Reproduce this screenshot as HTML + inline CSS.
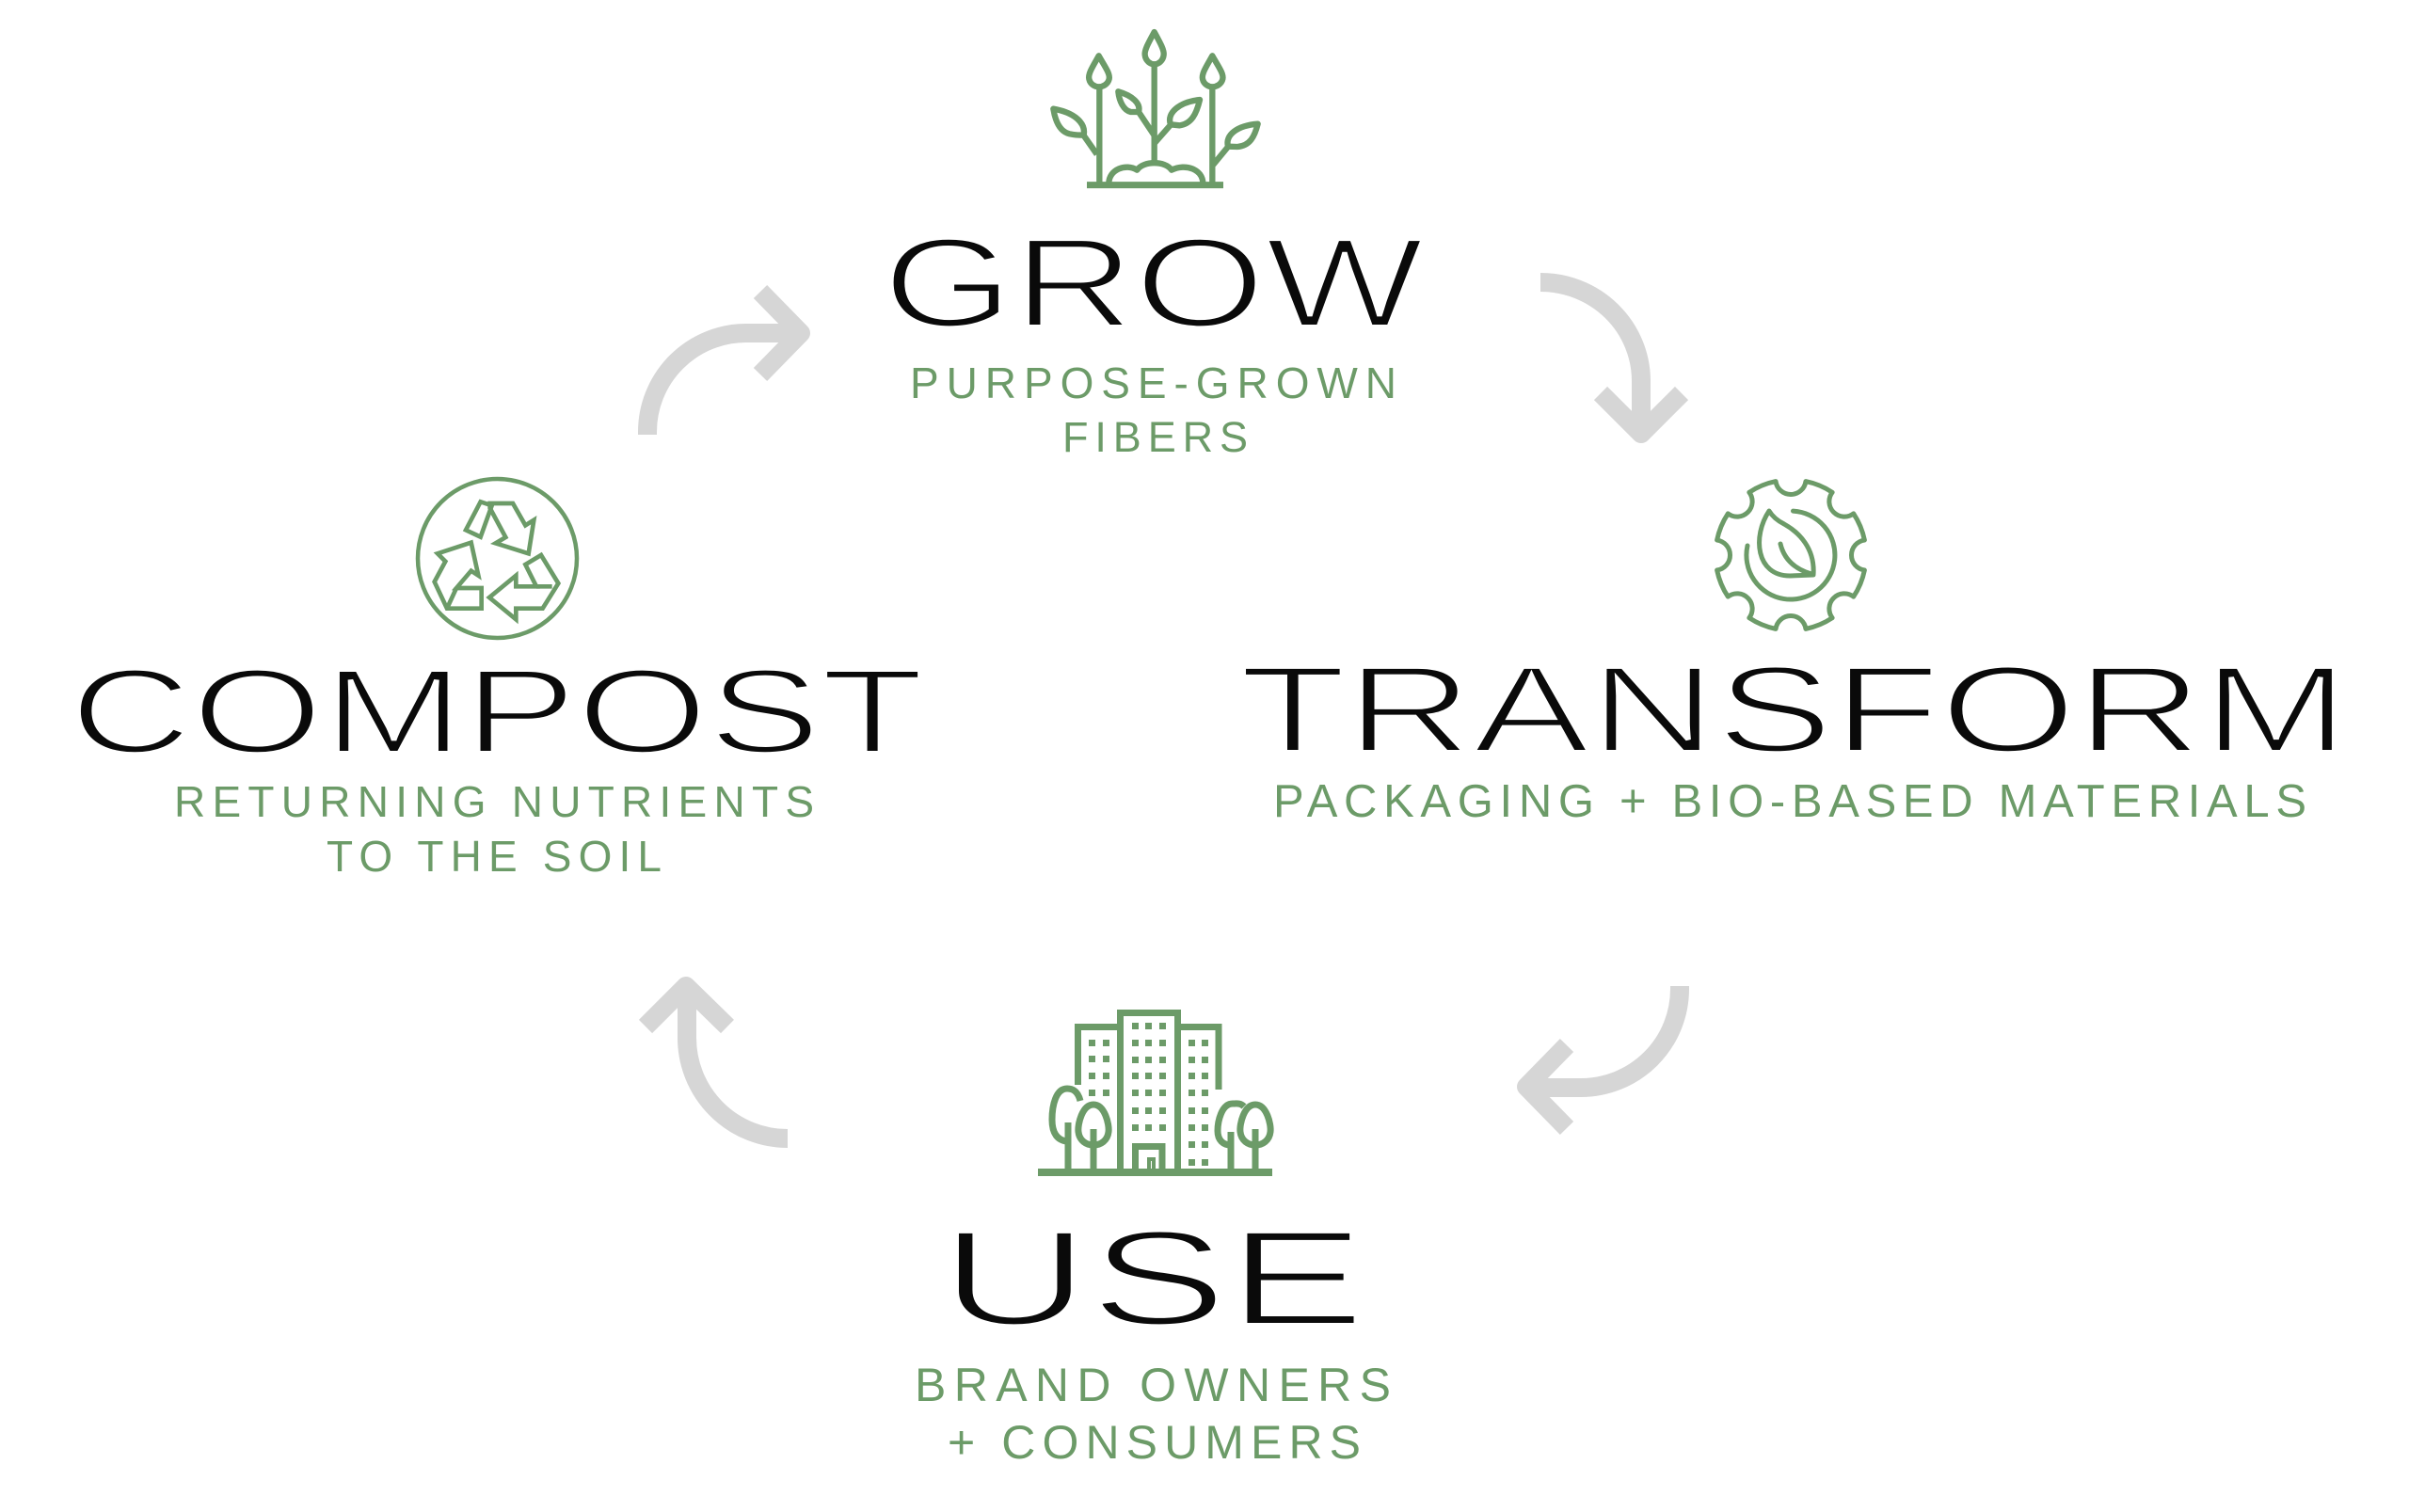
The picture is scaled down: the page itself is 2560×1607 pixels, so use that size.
<!DOCTYPE html>
<html>
<head>
<meta charset="utf-8">
<style>
html,body{margin:0;padding:0;background:#ffffff;}
svg{display:block;}
</style>
</head>
<body>
<svg width="2560" height="1607" viewBox="0 0 2560 1607" xmlns="http://www.w3.org/2000/svg">
<rect width="2560" height="1607" fill="#ffffff"/>

<!-- ===== Gray cycle arrows ===== -->
<g fill="none" stroke="#d6d6d6" stroke-width="20" stroke-linejoin="round" stroke-linecap="butt">
  <!-- GROW -> TRANSFORM -->
  <path d="M1637,300 A107,105 0 0 1 1744,405 L1744,455"/>
  <path d="M1701,418 L1744,461 L1787,418"/>
  <!-- TRANSFORM -> USE -->
  <path d="M1785,1048 L1785,1051 A105,105 0 0 1 1680,1156 L1630,1156"/>
  <path d="M1665,1111 L1622,1155 L1665,1199"/>
  <!-- USE -> COMPOST -->
  <path d="M837,1210 A107,107 0 0 1 730,1103 L730,1055"/>
  <path d="M686,1091 L729,1048 L773,1091"/>
  <!-- COMPOST -> GROW -->
  <path d="M688,462 L688,459 A105,105 0 0 1 793,354 L845,354"/>
  <path d="M808,310 L851,354 L808,398"/>
</g>

<!-- ===== Plant icon (GROW) ===== -->
<g transform="translate(1100,20) scale(0.33333)" fill="none" stroke="#6c9b68" stroke-width="19" stroke-linejoin="round">
  <path d="M165,530 L600,530" stroke-width="21"/>
  <path d="M205,215 L205,530"/>
  <path d="M203,118 C185,150 168,175 172,192 C176,210 192,217 203,217 C214,217 232,210 236,192 C240,175 221,150 203,118 Z"/>
  <path d="M380,145 L380,452"/>
  <path d="M380,42 C362,75 348,100 350,115 C352,135 368,145 380,145 C392,145 408,135 410,115 C412,100 398,75 380,42 Z"/>
  <path d="M565,215 L565,530"/>
  <path d="M565,118 C547,150 530,175 534,192 C538,210 554,217 565,217 C576,217 594,210 598,192 C602,175 583,150 565,118 Z"/>
  <path d="M235,525 C235,480 290,460 325,482 C345,452 415,452 435,482 C480,460 535,480 535,525"/>
  <path d="M197,432 L155,372"/>
  <path d="M155,370 C162,335 130,300 58,287 C65,330 80,360 110,367 C125,370 140,372 155,370 Z"/>
  <path d="M380,372 L332,300"/>
  <path d="M330,297 C338,270 310,245 265,232 C268,262 282,292 305,297 Z"/>
  <path d="M382,395 L432,338"/>
  <path d="M432,337 C418,300 460,265 525,258 C515,300 500,335 460,340 Z"/>
  <path d="M568,465 L615,408"/>
  <path d="M615,407 C605,370 645,340 710,335 C700,375 685,405 645,408 Z"/>
</g>

<!-- ===== Gear icon (TRANSFORM) ===== -->
<g fill="none" stroke="#6c9b68" stroke-width="5" stroke-linejoin="round" stroke-linecap="round">
  <path d="M1918.95,511.61 A80,80 0 0 1 1947.15,523.29 A16.1,16.1 0 0 0 1969.71,545.85 A80,80 0 0 1 1981.39,574.05 A16.1,16.1 0 0 0 1981.39,605.95 A80,80 0 0 1 1969.71,634.15 A16.1,16.1 0 0 0 1947.15,656.71 A80,80 0 0 1 1918.95,668.39 A16.1,16.1 0 0 0 1887.05,668.39 A80,80 0 0 1 1858.85,656.71 A16.1,16.1 0 0 0 1836.29,634.15 A80,80 0 0 1 1824.61,605.95 A16.1,16.1 0 0 0 1824.61,574.05 A80,80 0 0 1 1836.29,545.85 A16.1,16.1 0 0 0 1858.85,523.29 A80,80 0 0 1 1887.05,511.61 A16.1,16.1 0 0 0 1918.95,511.61 Z"/>
  <path d="M1905.5,543.1 A47,47 0 1 1 1857,580"/>
  <path d="M1880,543 C1862,570 1866,612 1902,612 L1927,611 C1929,583 1912,566 1896,557 C1888,553 1883,548 1880,543 Z"/>
  <path d="M1892,578 C1896,595 1908,605 1925,610"/>
</g>

<!-- ===== Buildings icon (USE) ===== -->
<g fill="none" stroke="#6c9b68" stroke-width="7" stroke-linejoin="miter">
  <path d="M1190.5,1246 L1190.5,1076.5 L1251.5,1076.5 L1251.5,1246"/>
  <path d="M1145.5,1153 L1145.5,1091.5 L1190.5,1091.5"/>
  <path d="M1251.5,1091.5 L1295,1091.5 L1295,1158"/>
  <path d="M1103,1246 L1352,1246" stroke-width="8"/>
  <path d="M1206.5,1246 L1206.5,1218.5 L1235,1218.5 L1235,1246"/>
  <path d="M1221,1246 L1221,1232 L1226,1232 L1226,1246" stroke-width="4"/>
  <path d="M1148,1170 C1145,1158 1138,1157 1134,1157 C1122,1157 1118,1175 1118,1190 C1118,1205 1124,1212 1134,1213"/>
  <path d="M1135,1193 L1135,1246"/>
  <path d="M1162,1174 C1150,1174 1145,1195 1146,1203 C1147,1212 1154,1217 1162,1217 C1170,1217 1177,1212 1178,1203 C1179,1195 1174,1174 1162,1174 Z"/>
  <path d="M1162,1200 L1162,1246"/>
  <path d="M1322,1176 C1318,1172 1314,1173 1310,1173 C1298,1173 1294,1192 1294,1202 C1294,1212 1300,1217 1308,1217"/>
  <path d="M1308,1203 L1308,1246"/>
  <path d="M1334,1174 C1322,1174 1317,1195 1318,1203 C1319,1212 1326,1217 1334,1217 C1342,1217 1349,1212 1350,1203 C1351,1195 1346,1174 1334,1174 Z"/>
  <path d="M1334,1200 L1334,1246"/>
</g>
<g fill="#6c9b68">
  <rect x="1157" y="1105" width="7" height="7"/><rect x="1172" y="1105" width="7" height="7"/>
  <rect x="1157" y="1122" width="7" height="7"/><rect x="1172" y="1122" width="7" height="7"/>
  <rect x="1157" y="1140" width="7" height="7"/><rect x="1172" y="1140" width="7" height="7"/>
  <rect x="1157" y="1158" width="7" height="7"/><rect x="1172" y="1158" width="7" height="7"/>
  <rect x="1203" y="1087" width="7" height="7"/><rect x="1217" y="1087" width="7" height="7"/><rect x="1232" y="1087" width="7" height="7"/>
  <rect x="1203" y="1105" width="7" height="7"/><rect x="1217" y="1105" width="7" height="7"/><rect x="1232" y="1105" width="7" height="7"/>
  <rect x="1203" y="1123" width="7" height="7"/><rect x="1217" y="1123" width="7" height="7"/><rect x="1232" y="1123" width="7" height="7"/>
  <rect x="1203" y="1140" width="7" height="7"/><rect x="1217" y="1140" width="7" height="7"/><rect x="1232" y="1140" width="7" height="7"/>
  <rect x="1203" y="1158" width="7" height="7"/><rect x="1217" y="1158" width="7" height="7"/><rect x="1232" y="1158" width="7" height="7"/>
  <rect x="1203" y="1177" width="7" height="7"/><rect x="1217" y="1177" width="7" height="7"/><rect x="1232" y="1177" width="7" height="7"/>
  <rect x="1203" y="1195" width="7" height="7"/><rect x="1217" y="1195" width="7" height="7"/><rect x="1232" y="1195" width="7" height="7"/>
  <rect x="1263" y="1105" width="7" height="7"/><rect x="1277" y="1105" width="7" height="7"/>
  <rect x="1263" y="1123" width="7" height="7"/><rect x="1277" y="1123" width="7" height="7"/>
  <rect x="1263" y="1140" width="7" height="7"/><rect x="1277" y="1140" width="7" height="7"/>
  <rect x="1263" y="1158" width="7" height="7"/><rect x="1277" y="1158" width="7" height="7"/>
  <rect x="1263" y="1177" width="7" height="7"/><rect x="1277" y="1177" width="7" height="7"/>
  <rect x="1263" y="1195" width="7" height="7"/><rect x="1277" y="1195" width="7" height="7"/>
  <rect x="1263" y="1213" width="7" height="7"/><rect x="1277" y="1213" width="7" height="7"/>
  <rect x="1263" y="1232" width="7" height="7"/><rect x="1277" y="1232" width="7" height="7"/>
</g>

<!-- ===== Recycle icon (COMPOST) ===== -->
<circle cx="528.5" cy="593.5" r="84.5" fill="none" stroke="#6c9b68" stroke-width="4.5"/>
<g transform="translate(430,500) scale(0.33333)" fill="none" stroke="#6c9b68" stroke-width="14" stroke-linejoin="miter">
  <polygon points="195,190 242,100 278,112 242,212"/>
  <polygon points="272,105 345,105 385,175 412,158 395,265 290,232 322,213 272,120"/>
  <polygon points="105,265 212,230 235,335 212,320 165,375 245,375 245,440 135,440 95,355 130,290"/>
  <path d="M165,375 L135,440"/>
  <polygon points="355,335 355,370 420,370 385,300 435,270 490,360 440,440 355,440 355,475 270,405"/>
  <path d="M420,370 L470,370"/>
</g>

<!-- ===== Headings ===== -->
<g font-family="'Liberation Sans', 'DejaVu Sans', sans-serif" fill="#0a0a0a" stroke="#ffffff" stroke-width="4">
  <text x="938" y="347" font-size="135" textLength="575" lengthAdjust="spacingAndGlyphs">GROW</text>
  <text x="1317" y="799" font-size="131" textLength="1179" lengthAdjust="spacingAndGlyphs">TRANSFORM</text>
  <text x="74" y="800" font-size="128" textLength="908" lengthAdjust="spacingAndGlyphs">COMPOST</text>
  <text x="999" y="1408" font-size="144" textLength="452" lengthAdjust="spacingAndGlyphs">USE</text>
</g>

<!-- ===== Subtitles ===== -->
<g font-family="'Liberation Sans', 'DejaVu Sans', sans-serif" fill="#6c9b68">
  <text x="967" y="423" font-size="46" textLength="517" lengthAdjust="spacing">PURPOSE-GROWN</text>
  <text x="1129" y="480" font-size="45" textLength="197" lengthAdjust="spacing">FIBERS</text>
  <text x="1353" y="868" font-size="49" textLength="1098" lengthAdjust="spacing">PACKAGING + BIO-BASED MATERIALS</text>
  <text x="185" y="868" font-size="46" textLength="680" lengthAdjust="spacing">RETURNING NUTRIENTS</text>
  <text x="347" y="926" font-size="46" textLength="356" lengthAdjust="spacing">TO THE SOIL</text>
  <text x="972" y="1489" font-size="50" textLength="506" lengthAdjust="spacing">BRAND OWNERS</text>
  <text x="1007" y="1550" font-size="50" textLength="439" lengthAdjust="spacing">+ CONSUMERS</text>
</g>
</svg>
</body>
</html>
